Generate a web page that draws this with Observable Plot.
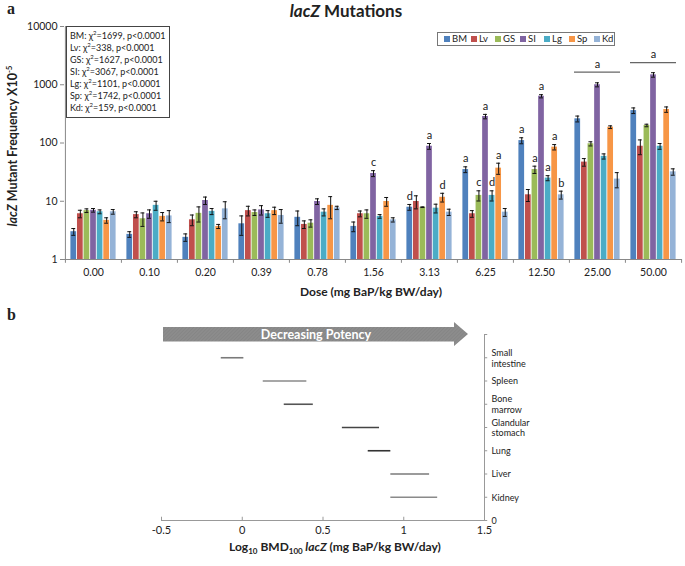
<!DOCTYPE html>
<html><head><meta charset="utf-8">
<script src="https://cdn.jsdelivr.net/npm/d3@7"></script>
<script src="https://cdn.jsdelivr.net/npm/@observablehq/plot@0.6"></script>
<style>
body{margin:0;background:#fff;font-family:Lato,sans-serif;}
#root{position:relative;width:685px;height:566px;overflow:hidden;background:#fff;}
.abs{position:absolute;}
#stats{left:66px;top:26px;width:104px;height:92px;border:1px solid #444;box-sizing:border-box;font-size:9px;line-height:12px;padding:3px 0 0 3px;color:#222;white-space:nowrap;}
#stats sup{font-size:6px;line-height:0;}
#legend{left:437px;top:32px;width:178px;height:14px;border:1px solid #777;box-sizing:border-box;font-size:9.5px;line-height:12px;color:#222;}
#legend .it{position:absolute;top:0px;display:flex;align-items:center;height:12px;white-space:nowrap;}
#legend .sw{display:inline-block;width:6px;height:6px;margin-right:2px;}
</style></head><body><div id="root"></div>
<script>
// ---------- Panel a data ----------
const doses = ["0.00","0.10","0.20","0.39","0.78","1.56","3.13","6.25","12.50","25.00","50.00"];
const tissues = ["BM","Lv","GS","SI","Lg","Sp","Kd"];
const colors = ["#4F81BD","#C0504D","#9BBB59","#8064A2","#4BACC6","#F79646","#95B3D7"];
const BM = [3.0,2.7,2.4,4.1,5.3,3.7,7.9,35,110,260,360];
const Lv = [6.1,5.9,4.8,6.9,4.0,6.1,9.9,6.1,12.9,47,88];
const GS = [6.9,5.0,6.2,6.4,4.2,6.1,7.9,12.6,35,97,200];
const SI = [7.0,6.1,10.3,7.1,9.9,30,88,285,635,1000,1480];
const Lg = [6.6,8.5,6.7,6.1,6.5,5.5,7.6,12.6,25,59,88];
const Sp = [4.7,5.5,3.7,6.9,8.5,9.9,11.7,37,85,187,376];
const Kd = [6.6,5.6,7.4,5.7,7.7,4.8,6.5,6.5,12.9,24,32];
const BM_err = [0.4,0.3,0.35,1.5,1.5,0.7,0.9,4,13,30,40];
const Lv_err = [0.9,0.7,1.0,1.3,0.6,0.7,2.5,0.8,3,7,25];
const GS_err = [0.5,1.3,1.8,0.7,0.6,1.0,0.1,2.5,5,8,10];
const SI_err = [0.5,1.0,1.5,1.3,1.1,3.5,10,25,40,80,130];
const Lg_err = [0.5,1.5,0.8,0.8,0.9,0.4,1.3,2.5,2.5,6,10];
const Sp_err = [0.5,0.9,0.3,1.0,3.5,1.7,2,8,9,10,40];
const Kd_err = [0.6,1.3,2.4,1.5,0.5,0.4,0.8,1.0,2,7,4];
const yTicks = [1,10,100,1000,10000];
const letters = [
  {dose:"1.56",tissue:"SI",letter:"c"},
  {dose:"3.13",tissue:"BM",letter:"d"},{dose:"3.13",tissue:"SI",letter:"a"},{dose:"3.13",tissue:"Sp",letter:"d"},
  {dose:"6.25",tissue:"BM",letter:"a"},{dose:"6.25",tissue:"GS",letter:"c"},{dose:"6.25",tissue:"SI",letter:"a"},{dose:"6.25",tissue:"Lg",letter:"d"},{dose:"6.25",tissue:"Sp",letter:"a"},
  {dose:"12.50",tissue:"BM",letter:"a"},{dose:"12.50",tissue:"GS",letter:"a"},{dose:"12.50",tissue:"SI",letter:"a"},{dose:"12.50",tissue:"Lg",letter:"a"},{dose:"12.50",tissue:"Sp",letter:"a"},{dose:"12.50",tissue:"Kd",letter:"b"}
];
const groupLetters = [{dose:"25.00",line:1650,label:"a",at:2250},{dose:"50.00",line:2400,label:"a",at:3300}];
const stats = [["BM","1699"],["Lv","338"],["GS","1627"],["SI","3067"],["Lg","1101"],["Sp","1742"],["Kd","159"]];

// ---------- Panel b data ----------
const organs = ["Kidney","Liver","Lung","Glandular\nstomach","Bone\nmarrow","Spleen","Small\nintestine"];
const bmdLo = [0.92,0.92,0.78,0.62,0.26,0.13,-0.13];
const bmdHi = [1.21,1.16,0.92,0.85,0.44,0.40,0.01];
const bmdColor = ["#8a8a8a","#7a7a7a","#333333","#444444","#555555","#8a8a8a","#7a7a7a"];
const xTicksB = [-0.5,0,0.5,1,1.5];

const all = {BM,Lv,GS,SI,Lg,Sp,Kd};
const errs = {BM:BM_err,Lv:Lv_err,GS:GS_err,SI:SI_err,Lg:Lg_err,Sp:Sp_err,Kd:Kd_err};
const rows = [];
doses.forEach((d,j)=>tissues.forEach((t,i)=>{
  const v = all[t][j], e = errs[t][j];
  rows.push({dose:d,tissue:t,ti:i,value:v,lo:v-e,hi:v+e});
}));

const root = document.getElementById("root");
const W = 685, mL = 64, mR = 3, pi = 0.18, po = 0.09;
const step = (W - mL - mR) / (doses.length - pi + 2*po);
const bw = step*(1-pi), sub = bw/7;
const FONT = "Lato, sans-serif";

const marksA = [];
tissues.forEach((t,i)=>{
  const data = rows.filter(r=>r.tissue===t);
  marksA.push(Plot.barY(data,{x:"dose",y1:1,y2:"value",fill:colors[i],insetLeft:sub*i+0.4,insetRight:sub*(6-i)+0.4}));
  marksA.push(Plot.ruleX(data,{x:"dose",y1:"lo",y2:"hi",dx:sub*(i+0.5)-bw/2,stroke:"#111",strokeWidth:1}));
  marksA.push(Plot.tickY(data,{x:"dose",y:"lo",insetLeft:sub*i+1.3,insetRight:sub*(6-i)+1.3,stroke:"#111",strokeWidth:1}));
  marksA.push(Plot.tickY(data,{x:"dose",y:"hi",insetLeft:sub*i+1.3,insetRight:sub*(6-i)+1.3,stroke:"#111",strokeWidth:1}));
  const ls = letters.filter(l=>l.tissue===t).map(l=>{const r=rows.find(r=>r.dose===l.dose&&r.tissue===t);return {...l,y:r.hi};});
  marksA.push(Plot.text(ls,{x:"dose",y:"y",text:"letter",dx:sub*(i+0.5)-bw/2,dy:-8,fontSize:11,fill:"#222"}));
});
marksA.push(Plot.tickY(groupLetters,{x:"dose",y:"line",stroke:"#666",strokeWidth:1.2}));
marksA.push(Plot.text(groupLetters,{x:"dose",y:"at",text:"label",fontSize:11,fill:"#222"}));
// axis lines and boundary ticks
marksA.push(Plot.ruleY([1],{stroke:"#888"}));
marksA.push(Plot.ruleX([doses[0]],{y1:1,y2:10000,dx:-(step*po+bw/2),stroke:"#888"}));
marksA.push(Plot.ruleX(doses,{x:d=>d,y1:1,y2:0.86,dx:-step/2,stroke:"#888"}));
marksA.push(Plot.ruleX([doses[doses.length-1]],{y1:1,y2:0.86,dx:step/2,stroke:"#888"}));
marksA.push(Plot.axisX({tickSize:0,tickPadding:9,fontSize:10.5,label:null}));
marksA.push(Plot.axisY({ticks:yTicks,tickFormat:d=>String(d),tickSize:4,tickPadding:3,fontSize:10.5,label:null,stroke:"#888"}));

const plotA = Plot.plot({
  width:W,height:300,marginLeft:mL,marginRight:mR,marginTop:26,marginBottom:41,
  style:{fontFamily:FONT,fontSize:"10px",color:"#222",background:"transparent"},
  x:{type:"band",domain:doses,paddingInner:pi,paddingOuter:po,label:null,axis:null},
  y:{type:"log",domain:[1,10000],label:null,axis:null},
  marks:marksA
});
plotA.style.position="absolute";plotA.style.left="0px";plotA.style.top="0px";
root.appendChild(plotA);
const sA = d3.select(plotA);
const yl = sA.append("text").attr("transform","translate(17,146) rotate(-90)").attr("text-anchor","middle")
  .attr("font-weight","bold").attr("font-size",12.5).attr("fill","#222").attr("font-family",FONT);
yl.append("tspan").attr("font-style","italic").text("lacZ");
yl.append("tspan").text(" Mutant Frequency X10");
yl.append("tspan").attr("font-size",8).attr("dy",-5).text("-5");
sA.append("text").attr("x",371).attr("y",296).attr("text-anchor","middle").attr("font-weight","bold")
  .attr("font-size",12).attr("fill","#222").attr("font-family",FONT).text("Dose (mg BaP/kg BW/day)");

// ---------- Panel b ----------
const bRows = organs.map((o,i)=>({organ:o,pos:i+1,lo:bmdLo[i],hi:bmdHi[i],c:bmdColor[i]}));
const plotB = Plot.plot({
  width:W,height:266,marginLeft:161,marginRight:201,marginTop:34,marginBottom:46,
  style:{fontFamily:FONT,fontSize:"9px",color:"#222",background:"transparent"},
  x:{domain:[-0.5,1.5],label:null,axis:null},
  y:{domain:[0,8],label:null,axis:null},
  marks:[
    Plot.ruleY([0],{stroke:"#999"}),
    Plot.ruleX([1.5],{y1:0,y2:8,stroke:"#999"}),
    Plot.ruleX(xTicksB,{x:d=>d,y1:0,y2:0.14,stroke:"#999"}),
    Plot.ruleY(d3.range(0,9),{y:d=>d,x1:1.5,x2:1.52,stroke:"#999"}),
    Plot.axisX({ticks:xTicksB,tickFormat:d=>String(d),tickSize:0,tickPadding:6,fontSize:11,label:null}),
    Plot.axisY({anchor:"right",ticks:d3.range(0,8),tickFormat:d=>d===0?"0":organs[d-1],tickSize:0,tickPadding:7,fontSize:9,label:null,lineHeight:1.2}),
    Plot.ruleY(bRows,{y:"pos",x1:"lo",x2:"hi",stroke:"c",strokeWidth:1.6})
  ]
});
plotB.style.position="absolute";plotB.style.left="0px";plotB.style.top="300px";
root.appendChild(plotB);
const sB = d3.select(plotB);
const xl = sB.append("text").attr("x",335).attr("y",251).attr("text-anchor","middle").attr("font-weight","bold")
  .attr("font-size",12).attr("fill","#222").attr("font-family",FONT);
xl.append("tspan").text("Log");
xl.append("tspan").attr("font-size",8).attr("dy",3).text("10");
xl.append("tspan").attr("dy",-3).text(" BMD");
xl.append("tspan").attr("font-size",8).attr("dy",3).text("100");
xl.append("tspan").attr("dy",-3).attr("font-style","italic").text(" lacZ");
xl.append("tspan").text(" (mg BaP/kg BW/day)");

// ---------- HTML annotations ----------
function add(html, css){const d=document.createElement("div");d.className="abs";d.innerHTML=html;Object.assign(d.style,css);root.appendChild(d);return d;}
add("a",{left:"7px",top:"0px",font:"bold 16px 'Liberation Serif',serif",color:"#222"});
add("b",{left:"7px",top:"306px",font:"bold 16px 'Liberation Serif',serif",color:"#222"});
add("<i>lacZ</i> Mutations",{left:"246px",width:"200px",textAlign:"center",top:"0px",font:"bold 17px Lato,sans-serif",color:"#222"});
const st = add(stats.map(s=>`${s[0]}: χ<sup>2</sup>=${s[1]}, p&lt;0.0001`).join("<br>"),{});
st.id="stats";
const legX = [6,33,57,82,106,131,156];
const lg = add(tissues.map((t,i)=>`<span class="it" style="left:${legX[i]}px"><span class="sw" style="background:${colors[i]}"></span>${t}</span>`).join(""),{});
lg.id="legend";
// arrow
add(`<svg width="320" height="26" style="display:block">
<defs><pattern id="h" width="2.5" height="2.5" patternUnits="userSpaceOnUse" patternTransform="rotate(45)">
<rect width="2.5" height="2.5" fill="#8c8c8c"/><line x1="0" y1="0" x2="0" y2="2.5" stroke="#7c7c7c" stroke-width="0.8"/></pattern></defs>
<polygon points="0,5 291,5 291,0 305,12 291,24 291,19.5 0,19.5" fill="url(#h)"/>
<text x="153" y="16.5" text-anchor="middle" font-family="Lato,sans-serif" font-weight="bold" font-size="12.5" fill="#fff">Decreasing Potency</text></svg>`,
 {left:"163px",top:"322px"});
</script></body></html>
